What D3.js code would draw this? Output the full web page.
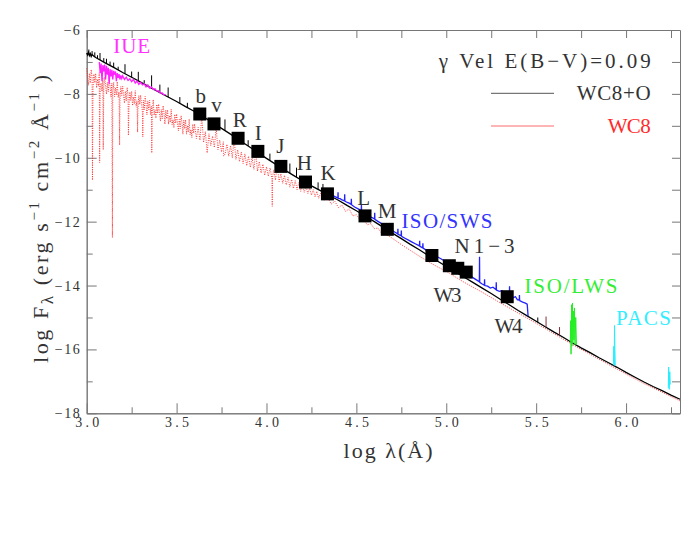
<!DOCTYPE html>
<html><head><meta charset="utf-8">
<script src="https://cdn.jsdelivr.net/npm/d3@7"></script>
<style>body{margin:0;background:#fff}svg{display:block}</style>
</head><body><svg id="c" width="699" height="540"></svg>
<script>
// ---------- data ----------
const xMajor = [3.0, 3.5, 4.0, 4.5, 5.0, 5.5, 6.0];
const xMinor = [3.25, 3.75, 4.25, 4.75, 5.25, 5.75, 6.25];
const yMajor = [-6, -8, -10, -12, -14, -16, -18];
const yMinor = [-7, -9, -11, -13, -15, -17];

// WC8 model (red, dotted) [log lambda, log F]
const wc8 = [[3.000,-7.20],[3.005,-7.48],[3.010,-7.73],[3.015,-7.36],[3.020,-7.66],[3.025,-7.24],[3.030,-7.48],[3.032,-10.70],[3.035,-7.82],[3.040,-7.38],[3.045,-7.65],[3.050,-7.36],[3.055,-7.81],[3.060,-7.54],[3.065,-7.75],[3.070,-7.34],[3.072,-10.15],[3.075,-7.83],[3.080,-7.66],[3.085,-7.92],[3.090,-7.49],[3.092,-9.75],[3.095,-7.77],[3.100,-7.48],[3.105,-7.76],[3.110,-8.01],[3.115,-7.64],[3.120,-7.94],[3.125,-7.52],[3.130,-7.76],[3.135,-8.10],[3.140,-7.66],[3.143,-12.50],[3.145,-7.93],[3.150,-7.64],[3.155,-8.09],[3.160,-7.82],[3.165,-8.03],[3.170,-7.62],[3.175,-8.11],[3.180,-7.94],[3.183,-9.60],[3.185,-8.20],[3.190,-7.77],[3.195,-8.05],[3.200,-7.76],[3.205,-8.04],[3.210,-8.29],[3.215,-7.92],[3.220,-8.22],[3.225,-7.80],[3.230,-8.04],[3.232,-9.30],[3.235,-8.38],[3.240,-7.94],[3.245,-8.21],[3.250,-7.92],[3.255,-8.37],[3.260,-8.10],[3.265,-8.31],[3.270,-7.90],[3.275,-8.39],[3.280,-8.22],[3.283,-9.20],[3.285,-8.48],[3.290,-8.05],[3.295,-8.33],[3.300,-8.04],[3.305,-8.32],[3.310,-8.57],[3.312,-9.35],[3.315,-8.20],[3.320,-8.50],[3.325,-8.08],[3.330,-8.32],[3.335,-8.66],[3.340,-8.22],[3.345,-8.49],[3.350,-8.20],[3.355,-8.65],[3.360,-8.38],[3.362,-9.85],[3.365,-8.59],[3.370,-8.18],[3.375,-8.67],[3.380,-8.50],[3.385,-8.76],[3.390,-8.33],[3.395,-8.61],[3.400,-8.32],[3.405,-8.61],[3.410,-8.85],[3.415,-8.49],[3.420,-8.78],[3.425,-8.37],[3.430,-8.61],[3.435,-8.95],[3.440,-8.51],[3.445,-8.78],[3.450,-8.50],[3.455,-8.95],[3.460,-8.68],[3.465,-8.89],[3.470,-8.48],[3.475,-8.97],[3.480,-8.81],[3.485,-9.06],[3.490,-8.64],[3.495,-8.92],[3.500,-8.63],[3.505,-8.92],[3.510,-9.16],[3.515,-8.80],[3.520,-9.09],[3.525,-8.68],[3.530,-8.92],[3.535,-9.26],[3.540,-8.82],[3.545,-9.09],[3.550,-8.81],[3.555,-9.26],[3.560,-8.99],[3.565,-9.20],[3.570,-8.79],[3.575,-9.28],[3.580,-9.12],[3.585,-9.37],[3.590,-8.95],[3.595,-9.23],[3.600,-8.94],[3.610,-9.40],[3.620,-9.05],[3.630,-9.45],[3.640,-8.70],[3.650,-9.52],[3.660,-9.18],[3.670,-9.85],[3.680,-9.25],[3.690,-9.62],[3.700,-9.32],[3.710,-9.68],[3.720,-9.05],[3.730,-9.75],[3.740,-9.45],[3.750,-9.82],[3.760,-9.50],[3.762,-9.95],[3.770,-9.88],[3.780,-9.58],[3.790,-9.95],[3.800,-9.62],[3.810,-10.00],[3.820,-9.40],[3.830,-10.05],[3.840,-9.75],[3.850,-10.12],[3.860,-9.82],[3.870,-10.18],[3.880,-9.88],[3.890,-10.25],[3.900,-9.95],[3.910,-10.30],[3.920,-10.00],[3.930,-10.36],[3.940,-9.80],[3.950,-10.42],[3.960,-10.12],[3.970,-10.48],[3.980,-10.20],[3.990,-10.55],[4.000,-10.28],[4.010,-10.58],[4.020,-10.32],[4.030,-10.65],[4.032,-11.52],[4.034,-10.60],[4.040,-10.38],[4.050,-10.70],[4.060,-10.20],[4.070,-10.75],[4.080,-10.50],[4.090,-10.80],[4.100,-10.55],[4.110,-10.85],[4.120,-10.62],[4.130,-10.92],[4.140,-10.68],[4.150,-10.96],[4.160,-10.72],[4.170,-11.00],[4.180,-10.78],[4.190,-11.05],[4.200,-10.85],[4.210,-11.08],[4.220,-10.90],[4.230,-11.12],[4.240,-10.95],[4.250,-11.17],[4.260,-11.00],[4.270,-11.22],[4.280,-11.05],[4.290,-11.27],[4.300,-11.12],[4.320,-11.34],[4.340,-11.24],[4.360,-11.45],[4.380,-11.36],[4.400,-11.56],[4.420,-11.48],[4.440,-11.68],[4.460,-11.60],[4.480,-11.82],[4.500,-11.78],[4.520,-11.95],[4.540,-11.92],[4.560,-12.10],[4.580,-12.06],[4.600,-12.22],[4.620,-12.20],[4.640,-12.36],[4.650,-12.25],[4.660,-12.38],[4.700,-12.52],[4.750,-12.72],[4.800,-12.90],[4.850,-13.08],[4.900,-13.25],[4.950,-13.41],[5.000,-13.56],[5.100,-13.90],[5.200,-14.21],[5.300,-14.54],[5.400,-14.86],[5.500,-15.18],[5.600,-15.51],[5.700,-15.84],[5.800,-16.15],[5.900,-16.46],[6.000,-16.77],[6.100,-17.07],[6.200,-17.34],[6.300,-17.61]];

// WC8+O model (black)
const wc8o = [[3.000,-6.72],[3.005,-6.78],[3.010,-6.70],[3.015,-6.80],[3.020,-6.74],[3.025,-6.83],[3.030,-6.77],[3.040,-6.82],[3.050,-6.86],[3.100,-7.02],[3.150,-7.17],[3.200,-7.33],[3.250,-7.48],[3.300,-7.63],[3.350,-7.79],[3.400,-7.94],[3.450,-8.09],[3.500,-8.24],[3.550,-8.40],[3.600,-8.55],[3.650,-8.72],[3.700,-8.90],[3.750,-9.08],[3.800,-9.26],[3.850,-9.45],[3.900,-9.64],[3.950,-9.83],[4.000,-10.02],[4.050,-10.20],[4.100,-10.38],[4.150,-10.55],[4.200,-10.72],[4.250,-10.88],[4.300,-11.03],[4.350,-11.18],[4.400,-11.33],[4.450,-11.50],[4.500,-11.66],[4.550,-11.83],[4.600,-12.00],[4.650,-12.18],[4.700,-12.36],[4.750,-12.53],[4.800,-12.71],[4.850,-12.88],[4.900,-13.06],[4.950,-13.23],[5.000,-13.40],[5.050,-13.57],[5.100,-13.74],[5.150,-13.91],[5.200,-14.08],[5.250,-14.25],[5.300,-14.43],[5.350,-14.60],[5.400,-14.78],[5.450,-14.95],[5.500,-15.12],[5.550,-15.29],[5.600,-15.46],[5.650,-15.62],[5.700,-15.79],[5.750,-15.95],[5.800,-16.10],[5.850,-16.26],[5.900,-16.41],[5.950,-16.56],[6.000,-16.72],[6.050,-16.87],[6.100,-17.02],[6.150,-17.16],[6.200,-17.29],[6.250,-17.43],[6.300,-17.56]];
// emission spikes on the WC8+O model [log lambda, base, top]
const wc8oLines = [[3.012,-6.76,-6.61],[3.030,-6.78,-6.66],[3.045,-6.84,-6.70],[3.060,-6.89,-6.79],[3.074,-6.94,-6.72],[3.095,-7.00,-6.88],[3.110,-7.05,-6.90],[3.130,-7.11,-6.99],[3.150,-7.17,-7.02],[3.175,-7.25,-7.15],[3.213,-7.37,-7.07],[3.250,-7.48,-7.30],[3.287,-7.59,-7.31],[3.320,-7.69,-7.57],[3.361,-7.82,-7.42],[3.407,-7.96,-7.71],[3.453,-8.10,-7.80],[3.518,-8.30,-8.10],[3.560,-8.43,-8.28],[3.769,-9.15,-8.80],[3.898,-9.63,-9.45],[4.019,-10.09,-9.87],[4.130,-10.48,-10.18],[4.167,-10.61,-10.31],[4.250,-10.88,-10.68],[4.287,-10.99,-10.77],[4.314,-11.07,-10.82],[5.509,-15.15,-15.00]];
const irLines = [[5.555,-15.30,-14.97],[5.630,-15.56,-15.30]];

// IUE spectrum (magenta)
const iue = [[3.070,-7.00],[3.075,-7.35],[3.080,-7.05],[3.085,-7.60],[3.090,-7.10],[3.095,-7.30],[3.100,-7.08],[3.105,-7.55],[3.110,-7.12],[3.115,-7.40],[3.120,-7.18],[3.125,-7.70],[3.130,-7.22],[3.135,-7.45],[3.140,-7.25],[3.145,-7.55],[3.150,-7.28],[3.155,-7.40],[3.160,-7.30],[3.165,-7.60],[3.170,-7.35],[3.175,-7.50],[3.180,-7.38],[3.185,-7.55],[3.190,-7.42],[3.195,-7.52],[3.200,-7.43],[3.210,-7.55],[3.220,-7.48],[3.230,-7.58],[3.240,-7.53],[3.250,-7.62],[3.260,-7.55],[3.270,-7.66],[3.280,-7.60],[3.290,-7.70],[3.300,-7.64],[3.310,-7.72],[3.320,-7.68],[3.330,-7.78],[3.340,-7.72],[3.350,-7.82],[3.360,-7.78],[3.370,-7.86],[3.380,-7.84],[3.390,-7.92],[3.400,-7.90],[3.410,-7.98],[3.420,-7.97],[3.430,-8.03],[3.440,-8.02]];

// ISO/SWS spectrum (blue)
const sws = [[4.370,-11.17],[4.380,-11.22],[4.390,-11.24],[4.397,-11.26],[4.398,-11.08],[4.399,-11.27],[4.410,-11.28],[4.420,-11.32],[4.434,-11.35],[4.435,-11.14],[4.436,-11.36],[4.450,-11.40],[4.460,-11.42],[4.471,-11.46],[4.472,-11.28],[4.473,-11.47],[4.490,-11.54],[4.510,-11.60],[4.527,-11.65],[4.528,-11.48],[4.529,-11.66],[4.545,-11.73],[4.560,-11.78],[4.575,-11.84],[4.590,-11.88],[4.601,-11.92],[4.602,-11.72],[4.603,-11.93],[4.620,-11.99],[4.640,-12.06],[4.660,-12.12],[4.680,-12.20],[4.700,-12.28],[4.715,-12.33],[4.730,-12.38],[4.731,-12.22],[4.732,-12.40],[4.749,-12.44],[4.750,-12.28],[4.751,-12.46],[4.770,-12.52],[4.790,-12.58],[4.810,-12.64],[4.830,-12.70],[4.851,-12.76],[4.852,-12.60],[4.853,-12.77],[4.869,-12.82],[4.870,-12.68],[4.871,-12.83],[4.890,-12.90],[4.910,-12.96],[4.930,-13.03],[4.950,-13.10],[4.970,-13.16],[4.990,-13.23],[5.010,-13.29],[5.030,-13.36],[5.050,-13.42],[5.070,-13.49],[5.090,-13.55],[5.110,-13.62],[5.130,-13.69],[5.150,-13.76],[5.170,-13.83],[5.184,-13.88],[5.185,-13.10],[5.186,-13.90],[5.200,-13.95],[5.212,-13.99],[5.213,-13.80],[5.214,-14.00],[5.230,-14.02],[5.245,-14.08],[5.260,-14.05],[5.277,-14.13],[5.278,-13.90],[5.279,-14.14],[5.295,-14.18],[5.310,-14.16],[5.325,-14.25],[5.340,-14.27],[5.351,-14.31],[5.352,-14.02],[5.353,-14.32],[5.370,-14.38],[5.385,-14.35],[5.395,-14.44],[5.406,-14.46],[5.407,-14.30],[5.408,-14.47],[5.425,-14.52],[5.440,-14.55],[5.450,-14.58],[5.455,-14.95]];

// ISO/LWS (green) and PACS (cyan)
const lws = [[5.690,-15.75],[5.692,-15.10],[5.694,-16.15],[5.697,-14.60],[5.699,-15.90],[5.702,-14.55],[5.704,-15.80],[5.707,-14.80],[5.710,-15.70],[5.713,-14.70],[5.716,-15.85],[5.720,-15.00],[5.724,-15.85]];
const pacs1 = [[5.930,-16.45],[5.932,-15.90],[5.934,-16.50],[5.936,-15.25],[5.938,-16.00],[5.940,-16.50]];
const pacs2 = [[6.235,-17.20],[6.237,-16.55],[6.240,-17.25],[6.243,-16.70],[6.246,-17.10]];

// photometry (black squares)
const photX = [3.629, 3.708, 3.842, 3.952, 4.080, 4.217, 4.339, 4.548, 4.672, 4.920, 5.017, 5.064, 5.111, 5.339];
const photY = [-8.63, -8.94, -9.39, -9.80, -10.27, -10.76, -11.13, -11.82, -12.24, -13.06, -13.38, -13.46, -13.58, -14.35];

// annotations: text, anchor in data coords, colour, forced width (0 = natural)
const annText = ["IUE","b","v","R","I","J","H","K","L","M","ISO/SWS","N1\u22123","W3","W4","ISO/LWS","PACS"];
const annX = [3.25, 3.634, 3.722, 3.852, 3.954, 4.077, 4.210, 4.342, 4.541, 4.671, 5.004, 5.213, 5.007, 5.346, 5.694, 6.097];
const annY = [-6.73, -8.295, -8.558, -9.037, -9.444, -9.851, -10.383, -10.696, -11.479, -11.895, -12.208, -12.991, -14.507, -15.496, -14.244, -15.236];
const annColor = ["#ff33ff","#333","#333","#333","#333","#333","#333","#333","#333","#333","#3333ff","#333","#333","#333","#33ee33","#33eeff"];
const annWidth = [37, 0, 0, 0, 0, 0, 0, 0, 0, 0, 91, 60, 28, 28, 93, 55];

// ---------- drawing ----------
const svg = d3.select("#c");
svg.append("rect").attr("width",699).attr("height",540).attr("fill","#fff");
const x = d3.scaleLinear().domain([3.0, 6.3]).range([86.7, 680]);
const y = d3.scaleLinear().domain([-18, -6]).range([413.3, 30]);
const FONT = "'Liberation Serif', 'DejaVu Serif', serif";
const TXT = "#333";
const AX = "#777";

function styleAxis(g) {
  g.attr("font-family", FONT).attr("font-size", 14);
  g.selectAll("path.domain").attr("stroke", AX).attr("stroke-width", 1);
  g.selectAll(".tick line").attr("stroke", AX).attr("stroke-width", 1);
  g.selectAll(".tick text").attr("fill", TXT);
}
// bottom
svg.append("g").attr("transform", `translate(0,${y(-18)})`)
  .call(d3.axisBottom(x).tickValues(xMajor).tickSize(-10).tickSizeOuter(0).tickPadding(4).tickFormat(d3.format(".1f")))
  .call(styleAxis).call(g => g.selectAll(".tick text").attr("textLength", 24).attr("lengthAdjust", "spacing"));
svg.append("g").attr("transform", `translate(0,${y(-18)})`)
  .call(d3.axisBottom(x).tickValues(xMinor).tickSize(-6).tickSizeOuter(0).tickFormat(""))
  .call(styleAxis);
// top
svg.append("g").attr("transform", `translate(0,${y(-6)})`)
  .call(d3.axisTop(x).tickValues(xMajor.concat(xMinor)).tickSize(-8).tickSizeOuter(0).tickFormat(""))
  .call(styleAxis);
// left
svg.append("g").attr("transform", `translate(${x(3.0)},0)`)
  .call(d3.axisLeft(y).tickValues(yMajor).tickSize(-10).tickSizeOuter(0).tickPadding(7).tickFormat(d3.format("d")))
  .call(styleAxis)
  .call(g => g.selectAll(".tick text").each(function(d){
     d3.select(this).attr("textLength", String(d).length > 2 ? 25 : 16).attr("lengthAdjust","spacing");
  }));
svg.append("g").attr("transform", `translate(${x(3.0)},0)`)
  .call(d3.axisLeft(y).tickValues(yMinor).tickSize(-6).tickSizeOuter(0).tickFormat(""))
  .call(styleAxis);
// right
svg.append("g").attr("transform", `translate(${x(6.3)},0)`)
  .call(d3.axisRight(y).tickValues(yMajor.concat(yMinor)).tickSize(-8).tickSizeOuter(0).tickFormat(""))
  .call(styleAxis);

const plot = svg.append("g");
const line = d3.line().x(d => x(d[0])).y(d => y(d[1]));

// WC8 (red dotted)
plot.append("path").datum(wc8).attr("d", line).attr("fill","none")
  .attr("stroke","#ff2a2a").attr("stroke-width",0.9).attr("stroke-dasharray","1,1.3");
// WC8+O (black)
plot.append("path").datum(wc8o).attr("d", line).attr("fill","none")
  .attr("stroke","#000").attr("stroke-width",1.3);
plot.selectAll("line.em").data(wc8oLines).join("line").attr("class","em")
  .attr("x1", d => x(d[0])).attr("x2", d => x(d[0]))
  .attr("y1", d => y(d[1])).attr("y2", d => y(d[2]))
  .attr("stroke","#000").attr("stroke-width",1);
plot.selectAll("line.ir").data(irLines).join("line").attr("class","ir")
  .attr("x1", d => x(d[0])).attr("x2", d => x(d[0]))
  .attr("y1", d => y(d[1])).attr("y2", d => y(d[2]))
  .attr("stroke","#8b2a3a").attr("stroke-width",1);
// observed spectra
plot.append("path").datum(iue).attr("d", line).attr("fill","none").attr("stroke","#ff22ff").attr("stroke-width",1.3);
plot.append("path").datum(sws).attr("d", line).attr("fill","none").attr("stroke","#2222ff").attr("stroke-width",1.3);
plot.append("path").datum(lws).attr("d", line).attr("fill","none").attr("stroke","#22ee22").attr("stroke-width",1);
plot.append("path").datum(pacs1).attr("d", line).attr("fill","none").attr("stroke","#22eeff").attr("stroke-width",1);
plot.append("path").datum(pacs2).attr("d", line).attr("fill","none").attr("stroke","#22eeff").attr("stroke-width",1);

// photometry squares
const S = 13;
plot.selectAll("rect.ph").data(photX.map((v,i) => [v, photY[i]])).join("rect").attr("class","ph")
  .attr("x", d => x(d[0]) - S/2).attr("y", d => y(d[1]) - S/2)
  .attr("width", S).attr("height", S).attr("fill","#000");

// annotations
annText.forEach((t,i) => {
  const el = svg.append("text").attr("x", x(annX[i])).attr("y", y(annY[i]))
    .attr("text-anchor","middle").attr("font-family",FONT).attr("font-size",21)
    .attr("fill", annColor[i]).text(t);
  if (annWidth[i] > 0) el.attr("textLength", annWidth[i]).attr("lengthAdjust","spacing");
});

// legend
svg.append("text").attr("x",650.7).attr("y",68.3).attr("text-anchor","end")
  .attr("font-family",FONT).attr("font-size",21).attr("fill",TXT)
  .attr("textLength",212).attr("lengthAdjust","spacing").text("\u03b3 Vel E(B\u2212V)=0.09");
svg.append("line").attr("x1",491).attr("x2",554).attr("y1",93.3).attr("y2",93.3).attr("stroke","#555").attr("stroke-width",1);
svg.append("text").attr("x",650.7).attr("y",100).attr("text-anchor","end")
  .attr("font-family",FONT).attr("font-size",21).attr("fill",TXT)
  .attr("textLength",74).attr("lengthAdjust","spacing").text("WC8+O");
svg.append("line").attr("x1",491).attr("x2",554).attr("y1",126).attr("y2",126).attr("stroke","#ff6a6a").attr("stroke-width",1);
svg.append("text").attr("x",650.7).attr("y",132.7).attr("text-anchor","end")
  .attr("font-family",FONT).attr("font-size",21).attr("fill","#ff2a2a")
  .attr("textLength",43).attr("lengthAdjust","spacing").text("WC8");

// axis titles
svg.append("text").attr("x",388).attr("y",458).attr("text-anchor","middle")
  .attr("font-family",FONT).attr("font-size",22).attr("fill",TXT)
  .attr("textLength",89).attr("lengthAdjust","spacing").text("log \u03bb(\u00c5)");
const yt = svg.append("text").attr("transform","translate(48,219) rotate(-90)")
  .attr("text-anchor","middle").attr("font-family",FONT).attr("font-size",22).attr("fill",TXT)
  .attr("textLength",288).attr("lengthAdjust","spacing");
yt.append("tspan").text("log F");
yt.append("tspan").attr("dy",5).attr("font-size",17).text("\u03bb");
yt.append("tspan").attr("dy",-5).text(" (erg s");
yt.append("tspan").attr("dy",-9).attr("font-size",15).text("\u22121");
yt.append("tspan").attr("dy",9).text(" cm");
yt.append("tspan").attr("dy",-9).attr("font-size",15).text("\u22122");
yt.append("tspan").attr("dy",9).text(" \u00c5");
yt.append("tspan").attr("dy",-9).attr("font-size",15).text("\u22121");
yt.append("tspan").attr("dy",9).text(" )");
</script></body></html>
